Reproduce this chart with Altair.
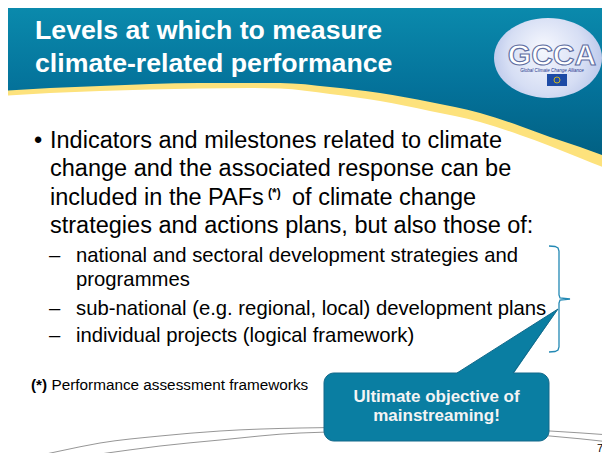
import altair as alt
import pandas as pd

# ---------------- text content ----------------
title_lines = ["Levels at which to measure", "climate-related performance"]
title_x = [35, 35]
title_y = [39, 72]

body_text = ["•", "Indicators and milestones related to climate",
             "change and the associated response can be",
             "included in the PAFs", "of climate change",
             "strategies and actions plans, but also those of:"]
body_x = [34, 50, 50, 50, 292, 50]
body_y = [148, 148, 176, 205, 205, 233]

sup_text = ["(*)"]
sup_x = [268]
sup_y = [197]

sub_text = ["–", "national and sectoral development strategies and", "programmes",
            "–", "sub-national (e.g. regional, local) development plans",
            "–", "individual projects (logical framework)"]
sub_x = [49, 76, 76, 49, 76, 49, 76]
sub_y = [262, 262, 286, 315, 315, 342, 342]

note_bold = ["(*)"]
note_bold_x = [31]
note_text = ["Performance assessment frameworks"]
note_text_x = [51.5]
note_y = [390]

callout_lines = ["Ultimate objective of", "mainstreaming!"]
callout_cx = [436.5, 436.5]
callout_y = [402, 421]

page_number = ["7"]
page_x = [600]
page_y = [452]

logo_word = ["GCCA"]
logo_sub = ["Global Climate Change Alliance"]

# ---------------- decorative shapes ----------------
band_x = [0, 50, 100, 150, 200, 250, 280, 330, 380, 430, 480, 520, 550, 580, 610]
band_top = [91, 88, 86, 84, 83, 83, 83, 87, 93, 102, 113, 126, 137, 147, 158]
band_bottom = [96, 93, 91, 89.5, 88.5, 88, 88.5, 94, 101, 111, 122, 135, 146, 158, 170]

brace_x = [549, 555, 558, 559, 559, 560, 570, 560, 559, 559, 558, 555, 549]
brace_y = [246, 246.5, 248, 251, 295, 298, 299, 300, 303, 347, 350, 351.5, 352]

foot_a_x = [14, 60, 100, 160, 220, 300, 400, 480, 550, 610]
foot_a_y = [461, 451, 443, 436, 431, 428, 427, 428, 431, 435]
foot_b_x = [48, 100, 160, 220, 300, 400, 480, 550, 610]
foot_b_y = [461, 454, 446, 440, 433, 431, 432, 436, 442]

box = dict(x=[324], x2=[549], y=[373], y2=[441])
tri_x = [457, 513, 558]
tri_top = [373, 337.5, 309]
tri_bottom = [374.5, 374.5, 309]
edge_x = [457, 558, 513]
edge_y = [373, 309, 373]

XS = alt.Scale(domain=[8, 602], nice=False, zero=False)
YS = alt.Scale(domain=[8, 453], nice=False, zero=False, reverse=True)
FONT = "Liberation Sans"


def X(f="x"):
    return alt.X(f"{f}:Q", scale=XS, axis=None)


def Y(f="y"):
    return alt.Y(f"{f}:Q", scale=YS, axis=None)


layers = []

# header background
hdr = pd.DataFrame({"x": [0], "x2": [610], "y": [0], "y2": [195]})
grad = alt.Gradient(gradient="linear",
                    stops=[alt.GradientStop(color="#0b8cae", offset=0),
                           alt.GradientStop(color="#04729a", offset=0.45),
                           alt.GradientStop(color="#005676", offset=1)],
                    x1=0, x2=0, y1=0, y2=1)
layers.append(alt.Chart(hdr).mark_rect(color=grad).encode(
    x=X(), x2="x2:Q", y=Y(), y2="y2:Q"))

band = pd.DataFrame({"x": band_x, "top": band_top, "bottom": band_bottom, "base": [200] * len(band_x)})
layers.append(alt.Chart(band).mark_area(color="#fde27c", interpolate="monotone").encode(
    x=X(), y=Y("top"), y2="base:Q"))
layers.append(alt.Chart(band).mark_area(color="#ffffff", interpolate="monotone").encode(
    x=X(), y=Y("bottom"), y2="base:Q"))

# logo
logo = pd.DataFrame({"x": [548], "y": [58]})
rgrad = alt.Gradient(gradient="radial",
                     stops=[alt.GradientStop(color="#f6f8fe", offset=0),
                            alt.GradientStop(color="#d6def4", offset=0.6),
                            alt.GradientStop(color="#aebde6", offset=1)],
                     x1=0.45, y1=0.4, r1=0, x2=0.5, y2=0.5, r2=0.6)
layers.append(alt.Chart(logo).mark_point(
    shape="M-1,0A1,0.74,0,1,1,1,0A1,0.74,0,1,1,-1,0Z", size=108 * 108,
    filled=True, fill=rgrad, opacity=1, strokeWidth=0).encode(x=X(), y=Y()))
lw = pd.DataFrame({"t": logo_word, "x": [552], "y": [56]})
layers.append(alt.Chart(lw).mark_text(font=FONT, fontWeight="bold", fontSize=30, align="center",
                                      color="#ffffff", stroke="#5d6c9f", strokeWidth=1.1).encode(
    x=X(), y=Y(), text="t:N"))
ls = pd.DataFrame({"t": logo_sub, "x": [552], "y": [71]})
layers.append(alt.Chart(ls).mark_text(font=FONT, fontStyle="italic", fontSize=4.5, align="center",
                                      color="#23338a").encode(x=X(), y=Y(), text="t:N"))
flag = pd.DataFrame({"x": [547], "x2": [567], "y": [74], "y2": [86]})
layers.append(alt.Chart(flag).mark_rect(color="#1d4ba6").encode(x=X(), x2="x2:Q", y=Y(), y2="y2:Q"))
layers.append(alt.Chart(pd.DataFrame({"x": [557], "y": [80]})).mark_point(
    shape="circle", size=36, filled=False, color="#f5d000", strokeWidth=0.8, opacity=1).encode(x=X(), y=Y()))

# title
tdf = pd.DataFrame({"t": title_lines, "x": title_x, "y": title_y})
layers.append(alt.Chart(tdf).mark_text(font=FONT, fontWeight="bold", fontSize=26.7, align="left",
                                       baseline="alphabetic", color="#ffffff").encode(
    x=X(), y=Y(), text="t:N"))

# body
bdf = pd.DataFrame({"t": body_text, "x": body_x, "y": body_y})
layers.append(alt.Chart(bdf).mark_text(font=FONT, fontSize=23.5, align="left",
                                       baseline="alphabetic", color="#000000").encode(
    x=X(), y=Y(), text="t:N"))
sdf = pd.DataFrame({"t": sup_text, "x": sup_x, "y": sup_y})
layers.append(alt.Chart(sdf).mark_text(font=FONT, fontWeight="bold", fontSize=12, align="left",
                                       baseline="alphabetic", color="#000000").encode(
    x=X(), y=Y(), text="t:N"))
subdf = pd.DataFrame({"t": sub_text, "x": sub_x, "y": sub_y})
layers.append(alt.Chart(subdf).mark_text(font=FONT, fontSize=20.3, align="left",
                                         baseline="alphabetic", color="#000000").encode(
    x=X(), y=Y(), text="t:N"))

# footnote
nb = pd.DataFrame({"t": note_bold, "x": note_bold_x, "y": note_y})
layers.append(alt.Chart(nb).mark_text(font=FONT, fontWeight="bold", fontSize=15.3, align="left",
                                      baseline="alphabetic", color="#000000").encode(
    x=X(), y=Y(), text="t:N"))
nt = pd.DataFrame({"t": note_text, "x": note_text_x, "y": note_y})
layers.append(alt.Chart(nt).mark_text(font=FONT, fontSize=15.3, align="left",
                                      baseline="alphabetic", color="#000000").encode(
    x=X(), y=Y(), text="t:N"))

# brace
brace = pd.DataFrame({"x": brace_x, "y": brace_y, "o": list(range(len(brace_x)))})
layers.append(alt.Chart(brace).mark_line(color="#2389b4", strokeWidth=1.3).encode(
    x=X(), y=Y(), order="o:Q"))

# footer curves
fa = pd.DataFrame({"x": foot_a_x, "y": foot_a_y})
fb = pd.DataFrame({"x": foot_b_x, "y": foot_b_y})
for f in (fa, fb):
    layers.append(alt.Chart(f).mark_line(color="#8a8a8a", strokeWidth=0.9, interpolate="monotone").encode(
        x=X(), y=Y()))

# callout
CFILL = "#0a7ea2"
CSTROKE = "#13698a"
bx = pd.DataFrame(box)
layers.append(alt.Chart(bx).mark_rect(color=CFILL, cornerRadius=10, stroke=CSTROKE, strokeWidth=1).encode(
    x=X(), x2="x2:Q", y=Y(), y2="y2:Q"))
tri = pd.DataFrame({"x": tri_x, "top": tri_top, "bottom": tri_bottom})
layers.append(alt.Chart(tri).mark_area(color=CFILL).encode(x=X(), y=Y("top"), y2="bottom:Q"))
edges = pd.DataFrame({"x": edge_x, "y": edge_y, "o": [0, 1, 2]})
layers.append(alt.Chart(edges).mark_line(color=CSTROKE, strokeWidth=1).encode(x=X(), y=Y(), order="o:Q"))
cdf = pd.DataFrame({"t": callout_lines, "x": callout_cx, "y": callout_y})
layers.append(alt.Chart(cdf).mark_text(font=FONT, fontWeight="bold", fontSize=17, align="center",
                                       baseline="alphabetic", color="#f4f4f4").encode(
    x=X(), y=Y(), text="t:N"))

# page number
pdf_ = pd.DataFrame({"t": page_number, "x": page_x, "y": page_y})
layers.append(alt.Chart(pdf_).mark_text(font=FONT, fontSize=11, align="center",
                                        baseline="alphabetic", color="#000000").encode(
    x=X(), y=Y(), text="t:N"))

chart = alt.layer(*layers).properties(
    width=594, height=445,
    autosize=alt.AutoSizeParams(type="none"),
    padding=0,
    background="white",
).configure_view(strokeWidth=0)

chart.save("out.html", embed_options={"renderer": "svg", "actions": False})
